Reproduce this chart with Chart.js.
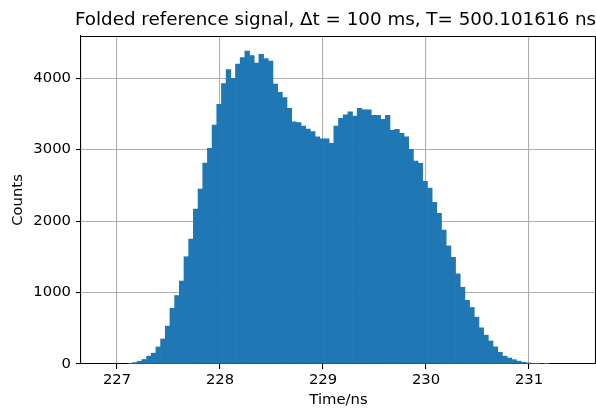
<!DOCTYPE html>
<html>
<head>
<meta charset="utf-8">
<script src="https://cdn.jsdelivr.net/npm/chart.js@4/dist/chart.umd.min.js"></script>
<style>
  html, body { margin: 0; padding: 0; background: #ffffff; }
  #wrap { width: 596px; height: 411px; position: relative; }
</style>
</head>
<body>
<div id="wrap"><canvas id="c" width="596" height="411"></canvas></div>
<script>
// ---- data ----
const titleText = "Folded reference signal, \u0394t = 100 ms, T= 500.101616 ns";
const xLabel = "Time/ns";
const yLabel = "Counts";
const xTicks = [227, 228, 229, 230, 231];
const yTicks = [0, 1000, 2000, 3000, 4000];
const xRange = [226.65, 231.65];
const yRange = [0, 4590];
const binFirstLeftEdge = 227.1045;      // left edge of first bin (ns)
const binWidth = 5 / 110;               // bin width (ns)
const counts = [
  9, 20, 36, 63, 110, 152, 238, 350, 530, 780,
  958, 1161, 1501, 1748, 2168, 2448, 2811, 3016, 3343, 3632,
  3925, 4118, 3998, 4198, 4289, 4380, 4317, 4210, 4334, 4275,
  4238, 3916, 3802, 3728, 3576, 3389, 3378, 3329, 3287, 3252,
  3179, 3149, 3149, 3088, 3329, 3436, 3487, 3529, 3469, 3576,
  3557, 3557, 3480, 3480, 3422, 3478, 3270, 3282, 3228, 3179,
  3002, 2839, 2807, 2557, 2460, 2261, 2109, 1874, 1653, 1492,
  1261, 1074, 890, 791, 655, 506, 404, 322, 240, 163,
  110, 84, 61, 40, 25, 16, 8, 3, 0, 4
];

const points = counts.map((c, i) => ({ x: binFirstLeftEdge + (i + 0.5) * binWidth, y: c }));

const FONT = "'DejaVu Sans', 'Liberation Sans', sans-serif";
const TITLE_SIZE = 18.3;
const LABEL_SIZE = 14.8;

const frame = {
  id: 'frame',
  afterLayout(chart) {
    const a = chart.chartArea;
    const tb = chart.titleBlock;
    if (tb) {
      const c = (a.left + a.right) / 2 - 3;
      const half = Math.min(c, chart.width - c);
      tb.left = c - half;
      tb.right = c + half;
    }
  },
  afterDraw(chart) {
    const { ctx, chartArea: a } = chart;
    ctx.save();
    ctx.strokeStyle = '#000';
    ctx.lineWidth = 1.1;
    ctx.beginPath();
    ctx.moveTo(Math.round(a.left), Math.round(a.top) + 0.5);
    ctx.lineTo(Math.round(a.right) - 0.5, Math.round(a.top) + 0.5);
    ctx.lineTo(Math.round(a.right) - 0.5, Math.round(a.bottom));
    ctx.stroke();
    ctx.restore();
  }
};

new Chart(document.getElementById('c'), {
  type: 'bar',
  data: {
    datasets: [{
      data: points,
      backgroundColor: '#1f77b4',
      borderWidth: 0,
      barPercentage: 1.0,
      categoryPercentage: 1.0,
      grouped: false
    }]
  },
  options: {
    responsive: false,
    animation: false,
    layout: { padding: 0 },
    plugins: {
      legend: { display: false },
      tooltip: { enabled: false },
      title: {
        display: true,
        text: titleText,
        color: '#000',
        font: { family: FONT, size: TITLE_SIZE, weight: 'normal', lineHeight: 1.2 },
        padding: { top: 9, bottom: 5 }
      }
    },
    scales: {
      x: {
        type: 'linear',
        min: xRange[0],
        max: xRange[1],
        offset: false,
        z: 1,
        afterFit(s) { s.height = 47; },
        afterBuildTicks(s) { s.ticks = xTicks.map(v => ({ value: v })); },
        ticks: {
          color: '#000',
          font: { family: FONT, size: LABEL_SIZE },
          padding: 2,
          maxRotation: 0,
          autoSkip: false,
          callback: v => String(v)
        },
        grid: {
          offset: false,
          color: '#b0b0b0',
          lineWidth: 1.1,
          tickColor: '#000',
          tickLength: 5,
          tickWidth: 1.1,
          drawTicks: true
        },
        border: { display: true, color: '#000', width: 1.1 },
        title: {
          display: true,
          text: xLabel,
          color: '#000',
          font: { family: FONT, size: LABEL_SIZE, lineHeight: 1.2 },
          padding: { top: 0, bottom: 2.2 }
        }
      },
      y: {
        type: 'linear',
        min: yRange[0],
        max: yRange[1],
        z: 1,
        afterFit(s) { s.width = 81; },
        afterBuildTicks(s) { s.ticks = yTicks.map(v => ({ value: v })); },
        ticks: {
          color: '#000',
          font: { family: FONT, size: LABEL_SIZE },
          padding: 5,
          autoSkip: false,
          callback: v => String(v)
        },
        grid: {
          offset: false,
          color: '#b0b0b0',
          lineWidth: 1.1,
          tickColor: '#000',
          tickLength: 5,
          tickWidth: 1.1,
          drawTicks: true
        },
        border: { display: true, color: '#000', width: 1.1 },
        title: {
          display: true,
          text: yLabel,
          color: '#000',
          font: { family: FONT, size: LABEL_SIZE, lineHeight: 1.2 },
          padding: { top: 9.5, bottom: 0 }
        }
      }
    }
  },
  plugins: [frame]
});
</script>
</body>
</html>
